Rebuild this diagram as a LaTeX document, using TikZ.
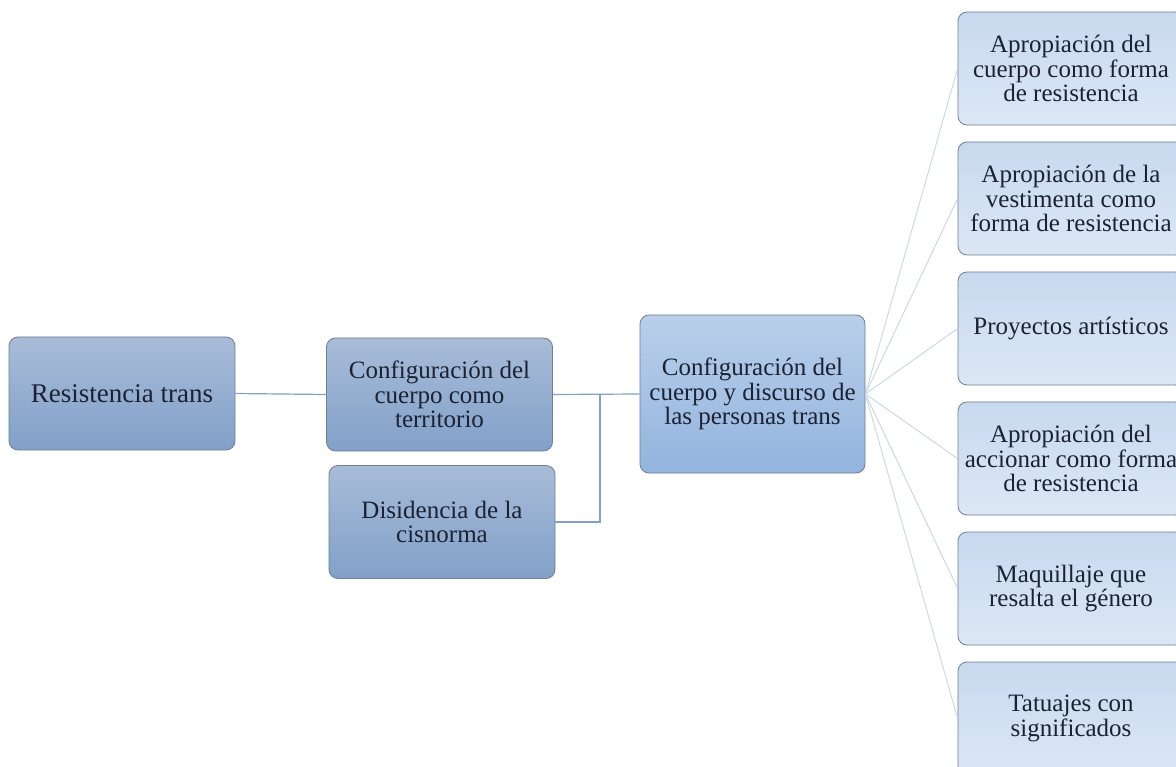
\documentclass[tikz,border=0pt]{standalone}
\usepackage{fontspec}
\setmainfont{Liberation Serif}
\definecolor{darktop}{HTML}{A8BCD8}
\definecolor{darkbot}{HTML}{82A0C8}
\definecolor{midtop}{HTML}{B9CFEA}
\definecolor{midbot}{HTML}{93B4DE}
\definecolor{lighttop}{HTML}{C8D9EF}
\definecolor{lightbot}{HTML}{DCE7F5}
\definecolor{boxline}{HTML}{6F7F95}
\definecolor{linkdark}{HTML}{7FA3C6}
\definecolor{linklight}{HTML}{C9D6E5}
\definecolor{txt}{HTML}{1A2233}
\tikzset{
  basebox/.style={rectangle, rounded corners=9pt, draw=boxline, line width=0.8pt,
    align=center, text=txt, inner sep=2pt,
    font=\fontsize{25}{24.5}\selectfont},
  darkbox/.style={basebox, top color=darktop, bottom color=darkbot,
    minimum width=226pt, minimum height=113pt},
  midbox/.style={basebox, top color=midtop, bottom color=midbot,
    minimum width=225pt, minimum height=158pt},
  lightbox/.style={basebox, top color=lighttop, bottom color=lightbot,
    minimum width=226pt, minimum height=113pt},
  darklink/.style={draw=linkdark, line width=1.2pt},
  lightlink/.style={draw=linklight, line width=0.9pt},
}
\begin{document}
\begin{tikzpicture}[x=1pt,y=-1pt]
\useasboundingbox (0,0) rectangle (1176,767);
\clip (0,0) rectangle (1176,767);
\fill[white] (0,0) rectangle (1176,767);

\node[darkbox, font=\fontsize{27}{28}\selectfont] (res) at (122,393.5) {Resistencia trans};
\node[darkbox] (terr) at (439.5,394.5) {Configuración del\\cuerpo como\\territorio};
\node[darkbox] (dis) at (442,522) {Disidencia de la\\cisnorma};
\node[midbox] (cen) at (752.5,394) {Configuración del\\cuerpo y discurso de\\las personas trans};

\node[lightbox] (r1) at (1071,68.5) {Apropiación del\\cuerpo como forma\\de resistencia};
\node[lightbox] (r2) at (1071,198.5) {Apropiación de la\\vestimenta como\\forma de resistencia};
\node[lightbox] (r3) at (1071,328.5) {Proyectos artísticos};
\node[lightbox] (r4) at (1071,458.5) {Apropiación del\\accionar como forma\\de resistencia};
\node[lightbox] (r5) at (1071,588.5) {Maquillaje que\\resalta el género};
\node[lightbox] (r6) at (1071,718.5) {Tatuajes con\\significados};

\coordinate (j) at (600,394);
\draw[darklink] (res.east) -- (terr.west);
\draw[darklink] (terr.east) -- (cen.west);
\draw[darklink] (dis.east) -| (j);

\foreach \r in {r1,r2,r3,r4,r5,r6}
  \draw[lightlink] (cen.east) -- (\r.west);
\end{tikzpicture}
\end{document}
